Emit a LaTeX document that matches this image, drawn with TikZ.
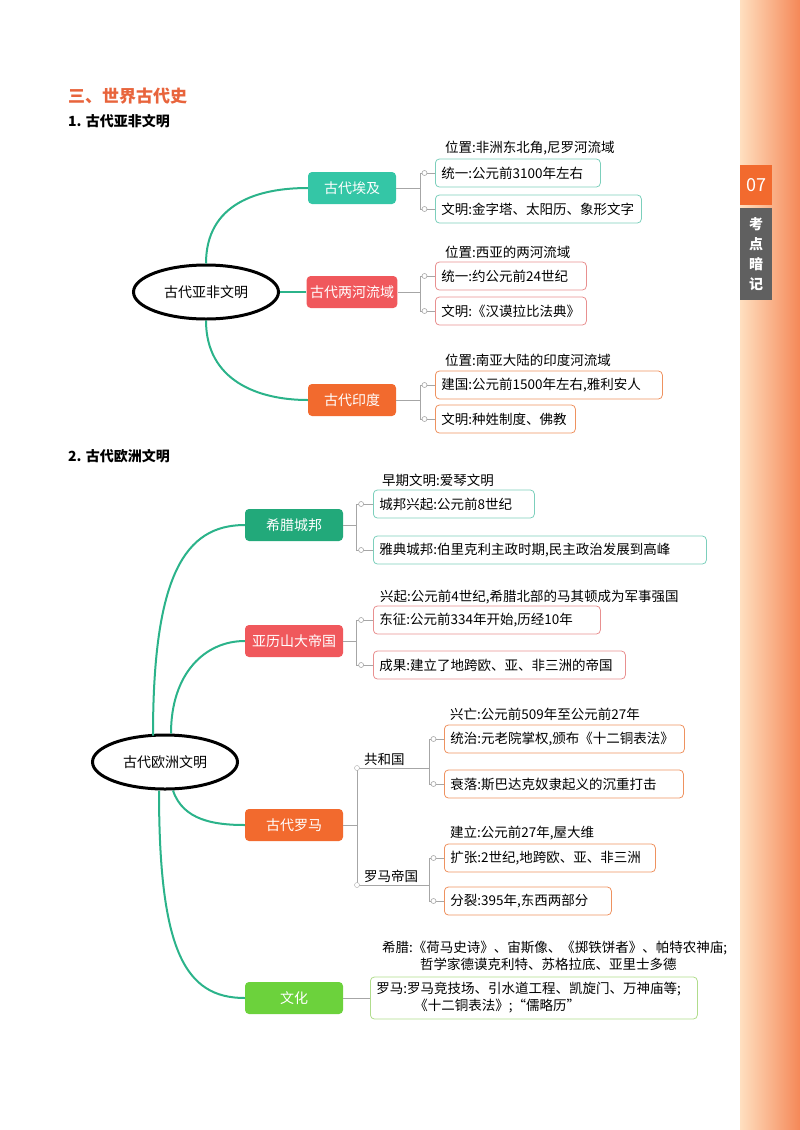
\documentclass[tikz,border=0pt]{standalone}
\usepackage{fontspec}
\setmainfont{Noto Sans CJK SC}
\usetikzlibrary{shapes.geometric}
\definecolor{tealA}{HTML}{34C6A6}
\definecolor{redA}{HTML}{F0585C}
\definecolor{orangeA}{HTML}{F26A2E}
\definecolor{greenA}{HTML}{22A97A}
\definecolor{limeA}{HTML}{6CD23C}
\definecolor{tealL}{HTML}{7CCFBC}
\definecolor{redL}{HTML}{E89090}
\definecolor{orangeL}{HTML}{EE9260}
\definecolor{limeL}{HTML}{B0DC8C}
\definecolor{curveC}{HTML}{2BB38A}
\definecolor{titleC}{HTML}{E8643C}
\tikzset{
  hubnode/.style={ellipse,draw=black,line width=3pt,minimum width=145pt,minimum height=54pt,font=\fontsize{14}{16}\selectfont},
  branch/.style={rounded corners=4pt,minimum width=88pt,minimum height=32pt,text=white,font=\fontsize{14}{16}\selectfont},
  leaf/.style={draw=#1,line width=0.8pt,rounded corners=4pt,anchor=west,minimum height=28pt,inner xsep=6pt,align=left,font=\fontsize{13.5}{17}\selectfont},
  plain/.style={anchor=west,inner sep=0pt,font=\fontsize{13.5}{17}\selectfont},
  link/.style={draw=gray!70,line width=0.6pt},
  dot/.style={circle,draw=gray!70,fill=white,inner sep=0pt,minimum size=5pt},
  curve/.style={draw=curveC,line width=2pt}
}
\begin{document}
\begin{tikzpicture}[x=1pt,y=-1pt]
\useasboundingbox (0,0) rectangle (800,1130);
% side tab
\shade[left color=orange!25!white,right color=orangeA!80] (740,0) rectangle (800,1130);
\fill[orangeA] (740,165) rectangle (772,205);
\node[text=white,font=\fontsize{18}{20}\selectfont] (tabnum) at (756,185) {07};
\fill[gray!75!black] (740,208) rectangle (772,300);
\node[text=white,align=center,font=\bfseries\fontsize{14}{20}\selectfont] (tabtxt) at (756,254) {考\\点\\暗\\记};
% titles
\node[plain,text=titleC,font=\bfseries\fontsize{17}{19}\selectfont] (title) at (68,96) {三、世界古代史};
\node[plain,font=\bfseries\fontsize{14}{16}\selectfont] (sec1) at (68,121) {1. 古代亚非文明};
\node[plain,font=\bfseries\fontsize{14}{16}\selectfont] (sec2) at (68,456) {2. 古代欧洲文明};

% part 1
\node[hubnode] (asia) at (206,292) {古代亚非文明};
\node[branch,fill=tealA] (egypt) at (352,188) {古代埃及};
\node[branch,fill=redA] (meso) at (352,292) {古代两河流域};
\node[branch,fill=orangeA] (india) at (352,400) {古代印度};
\path[curve] (asia.north) .. controls +(0,-60) and +(-50,0) .. (egypt.west);
\path[curve] (asia.east) -- (meso.west);
\path[curve] (asia.south) .. controls +(0,60) and +(-50,0) .. (india.west);

\node[plain] (eg0) at (445,148) {位置:非洲东北角,尼罗河流域};
\node[leaf=tealL,text width=153pt] (eg1) at (435,173) {统一:公元前3100年左右};
\node[leaf=tealL,text width=194pt] (eg2) at (435,209) {文明:金字塔、太阳历、象形文字};
\node[plain] (me0) at (445,252) {位置:西亚的两河流域};
\node[leaf=redL,text width=139pt] (me1) at (435,276) {统一:约公元前24世纪};
\node[leaf=redL,text width=139pt] (me2) at (435,311) {文明:《汉谟拉比法典》};
\node[plain] (in0) at (445,360) {位置:南亚大陆的印度河流域};
\node[leaf=orangeL,text width=215pt] (in1) at (435,385) {建国:公元前1500年左右,雅利安人};
\node[leaf=orangeL,text width=128pt] (in2) at (435,419) {文明:种姓制度、佛教};

\coordinate (bEg) at (420,188);
\coordinate (bMe) at (420,292);
\coordinate (bIn) at (420,400);
\draw[link] (egypt.east) -- (bEg) (bEg |- eg1.west) -- (bEg |- eg2.west);
\draw[link] (meso.east) -- (bMe) (bMe |- me1.west) -- (bMe |- me2.west);
\draw[link] (india.east) -- (bIn) (bIn |- in1.west) -- (bIn |- in2.west);
\foreach \b/\t in {bEg/eg1,bEg/eg2,bMe/me1,bMe/me2,bIn/in1,bIn/in2}
  \draw[link] (\b |- \t.west) -- node[dot,pos=0.3]{} (\t.west);

% part 2
\node[hubnode] (europe) at (165,762) {古代欧洲文明};
\node[branch,fill=greenA,minimum width=98pt] (greece) at (294,525) {希腊城邦};
\node[branch,fill=redA,minimum width=98pt] (alex) at (294,641) {亚历山大帝国};
\node[branch,fill=orangeA,minimum width=98pt] (rome) at (294,825) {古代罗马};
\node[branch,fill=limeA,minimum width=98pt] (culture) at (294,998) {文化};
\path[curve] (europe.north) ++(-12,2) .. controls +(0,-160) and +(-60,0) .. (greece.west);
\path[curve] (europe.north) ++(6,0) .. controls +(0,-60) and +(-40,0) .. (alex.west);
\path[curve] (europe.south) ++(8,0) .. controls +(10,30) and +(-30,0) .. (rome.west);
\path[curve] (europe.south) ++(-6,0) .. controls +(0,160) and +(-60,0) .. (culture.west);

\node[plain] (gr0) at (382,480) {早期文明:爱琴文明};
\node[leaf=tealL,text width=149pt] (gr1) at (373,504) {城邦兴起:公元前8世纪};
\node[leaf=tealL,text width=321pt] (gr2) at (373,550) {雅典城邦:伯里克利主政时期,民主政治发展到高峰};
\node[plain] (al0) at (380,597) {兴起:公元前4世纪,希腊北部的马其顿成为军事强国};
\node[leaf=redL,text width=215pt] (al1) at (373,620) {东征:公元前334年开始,历经10年};
\node[leaf=redL,text width=240pt] (al2) at (373,665) {成果:建立了地跨欧、亚、非三洲的帝国};
\coordinate (bGr) at (356,525);
\coordinate (bAl) at (356,641);
\draw[link] (greece.east) -- (bGr) (bGr |- gr1.west) -- (bGr |- gr2.west);
\draw[link] (alex.east) -- (bAl) (bAl |- al1.west) -- (bAl |- al2.west);
\foreach \b/\t in {bGr/gr1,bGr/gr2,bAl/al1,bAl/al2}
  \draw[link] (\b |- \t.west) -- node[dot,pos=0.3]{} (\t.west);

% rome
\coordinate (bRo) at (357,825);
\coordinate (rep) at (357,768);
\coordinate (emp) at (357,885);
\node[plain,anchor=south west] (repl) at (364,766) {共和国};
\node[plain,anchor=south west] (empl) at (364,883) {罗马帝国};
\coordinate (bRep) at (429,768);
\coordinate (bEmp) at (429,885);
\node[plain] (rp0) at (450,714) {兴亡:公元前509年至公元前27年};
\node[leaf=orangeL,text width=228pt] (rp1) at (444,739) {统治:元老院掌权,颁布《十二铜表法》};
\node[leaf=orangeL,text width=227pt] (rp2) at (444,784) {衰落:斯巴达克奴隶起义的沉重打击};
\node[plain] (em0) at (450,833) {建立:公元前27年,屋大维};
\node[leaf=orangeL,text width=199pt] (em1) at (444,858) {扩张:2世纪,地跨欧、亚、非三洲};
\node[leaf=orangeL,text width=155pt] (em2) at (444,901) {分裂:395年,东西两部分};
\draw[link] (rome.east) -- (bRo) (rep) -- (emp);
\draw[link] (rep) -- (bRep) (bRep |- rp1.west) -- (bRep |- rp2.west);
\draw[link] (emp) -- (bEmp) (bEmp |- em1.west) -- (bEmp |- em2.west);
\node[dot] (repdot) at (rep) {};
\node[dot] (empdot) at (emp) {};
\foreach \b/\t in {bRep/rp1,bRep/rp2,bEmp/em1,bEmp/em2}
  \draw[link] (\b |- \t.west) -- node[dot,pos=0.3]{} (\t.west);

% culture
\node[plain,align=left] (cu0) at (382,956) {希腊:《荷马史诗》、宙斯像、《掷铁饼者》、帕特农神庙;\\\hspace*{38pt}哲学家德谟克利特、苏格拉底、亚里士多德};
\node[leaf=limeL,text width=315pt,minimum height=42pt] (cu1) at (370,998) {罗马:罗马竞技场、引水道工程、凯旋门、万神庙等;\\\hspace*{38pt}《十二铜表法》;“儒略历”};
\draw[link] (culture.east) -- (cu1.west);
\end{tikzpicture}
\end{document}
